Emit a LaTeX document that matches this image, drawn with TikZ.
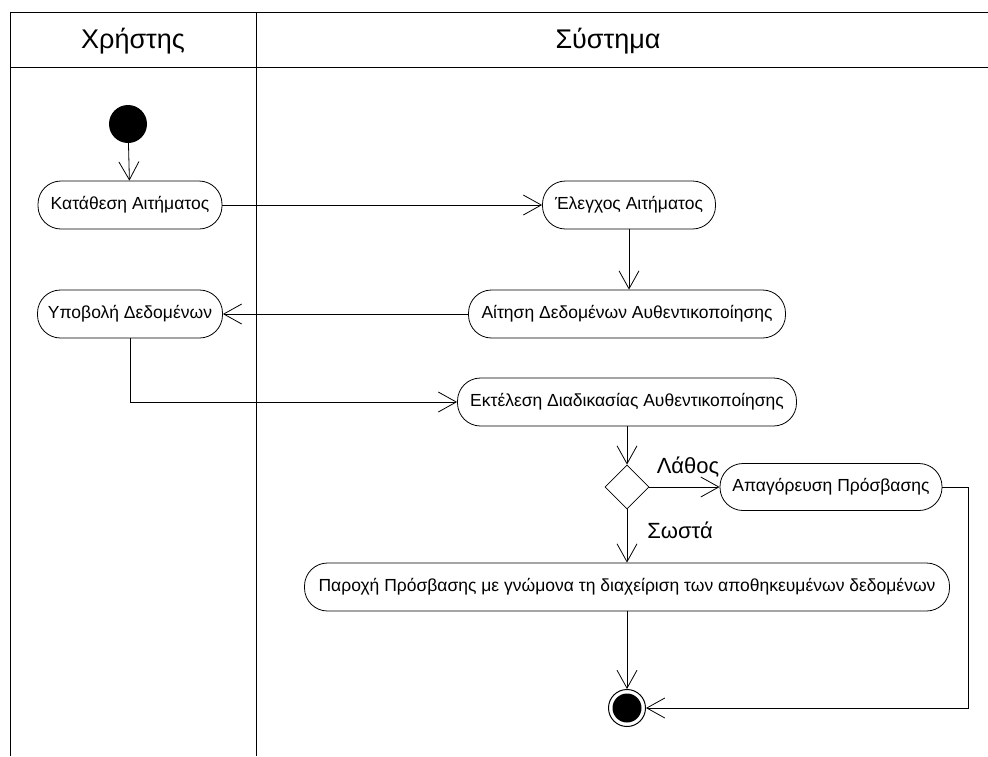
\documentclass[tikz,border=0pt]{standalone}
\usepackage{fontspec}
\setmainfont{Liberation Sans}
\usetikzlibrary{arrows.meta,shapes.geometric,calc}
\tikzset{
  act/.style={draw, line width=0.8pt, rounded corners=23pt, minimum height=48pt, inner sep=0pt, font=\fontsize{17.5}{19}\selectfont},
  flow/.style={draw, line width=0.8pt, -{Straight Barb[length=18pt,width=20pt,line width=0.8pt]}},
  lane/.style={line width=1pt},
  lbl/.style={font=\fontsize{22}{24}\selectfont, inner sep=0pt},
  hdr/.style={font=\fontsize{27}{29}\selectfont, inner sep=0pt}
}
\begin{document}
\begin{tikzpicture}[x=1pt,y=-1pt]
\useasboundingbox (0,0) rectangle (988,756);
% swimlanes
\draw[lane] (988,12) -- (10,12) -- (10,756);
\draw[lane] (256,12) -- (256,756);
\draw[lane] (10,67) -- (988,67);
\node[hdr] (h1) at (133,41) {Χρήστης};
\node[hdr] (h2) at (608,41) {Σύστημα};
% nodes
\node[circle, fill=black, minimum size=38pt, inner sep=0pt] (start) at (128,124) {};
\node[act, minimum width=184pt] (a1) at (130,205) {Κατάθεση Αιτήματος};
\node[act, minimum width=173pt] (a2) at (629,205) {Έλεγχος Αιτήματος};
\node[act, minimum width=317pt] (a3) at (627,314) {Αίτηση Δεδομένων Αυθεντικοποίησης};
\node[act, minimum width=185pt] (a4) at (130,314) {Υποβολή Δεδομένων};
\node[act, minimum width=339pt] (a5) at (627,402) {Εκτέλεση Διαδικασίας Αυθεντικοποίησης};
\node[diamond, draw, line width=0.8pt, minimum width=44pt, minimum height=44pt, inner sep=0pt] (d) at (627,487) {};
\node[act, minimum width=222pt, minimum height=47pt] (a6) at (831,487) {Απαγόρευση Πρόσβασης};
\node[act, minimum width=645pt] (a7) at (627,587) {Παροχή Πρόσβασης με γνώμονα τη διαχείριση των αποθηκευμένων δεδομένων};
\node[circle, draw, line width=1pt, minimum size=37pt, inner sep=0pt] (end) at (627,708) {};
\fill (end.center) circle (14.5pt);
\coordinate (r1) at (968,487);
\coordinate (r2) at (968,708);
% connectors
\draw[flow] (start) -- (a1);
\draw[flow] (a1) -- (a2);
\draw[flow] (a2.south) -- (a2.south |- a3.north);
\draw[flow] (a3) -- (a4);
\draw[flow] (a4.south) |- (a5.west);
\draw[flow] (a5.south -| d.north) -- (d.north);
\draw[flow] (d.east) -- (a6.west);
\draw[flow] (d.south) -- (d.south |- a7.north);
\draw[flow] (a7.south -| end.north) -- (end.north);
\draw[flow] (a6.east) -- (r1) -- (r2) -- (end.east);
\node[lbl] (l1) at (688,467) {Λάθος};
\node[lbl] (l2) at (680,530) {Σωστά};
\end{tikzpicture}
\end{document}
